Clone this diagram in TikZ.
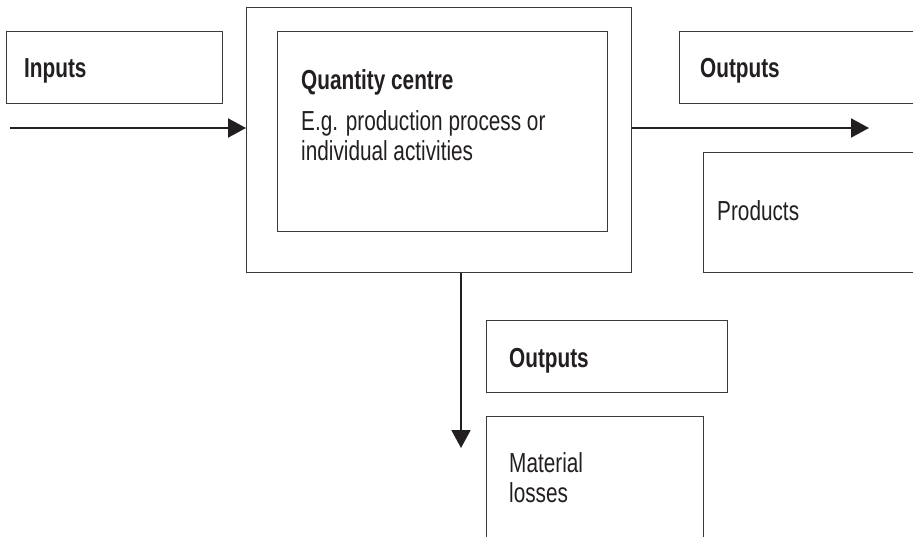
\documentclass[tikz,border=0pt]{standalone}
\usepackage{fontspec}
\setmainfont{Liberation Sans}[FakeStretch=0.755]
\usetikzlibrary{arrows.meta}
\definecolor{ink}{HTML}{231F20}
\definecolor{edge}{HTML}{3A3A3A}
\begin{document}
\begin{tikzpicture}[x=1pt,y=-1pt,
  box/.style={draw=edge, line width=1.3pt, anchor=north west, inner sep=0pt},
  lbl/.style={anchor=base west, inner sep=0pt, text=ink, font=\fontsize{27.5}{30}\selectfont, align=left},
  conn/.style={draw=ink, line width=2pt, -{Triangle[length=18pt,width=19pt]}}]
\useasboundingbox (0,0) rectangle (913,536);
\clip (0,0) rectangle (913,536);
% boxes
\node[box, minimum width=216pt, minimum height=72pt] (inbox) at (6,31) {};
\node[box, minimum width=385pt, minimum height=265pt] (outer) at (246,7) {};
\node[box, minimum width=330pt, minimum height=200pt] (inner) at (277,31) {};
\node[box, minimum width=260pt, minimum height=72pt] (outtop) at (679,31) {};
\node[box, minimum width=240pt, minimum height=120pt] (prod) at (703,152) {};
\node[box, minimum width=241pt, minimum height=72pt] (outbot) at (486,320) {};
\node[box, minimum width=217pt, minimum height=140pt] (loss) at (486,416) {};
% texts (multi-line nodes are placed by the baseline of their last line)
\node[lbl] (intext) at (24,77) {\bfseries Inputs};
\node[lbl] (qtext) at (301,160) {\bfseries Quantity centre\\[11pt]E.g. production process or\\individual activities};
\node[lbl] (outtoptext) at (700,77) {\bfseries Outputs};
\node[lbl] (prodtext) at (717,220) {Products};
\node[lbl] (outbottext) at (509,367) {\bfseries Outputs};
\node[lbl] (losstext) at (509,502) {Material\\losses};
% connectors
\coordinate (inStart) at (10,128);
\coordinate (outEnd) at (869,128);
\coordinate (downStart) at (461,272);
\coordinate (downEnd) at (461,448);
\draw[conn] (inStart) -- (inStart -| outer.west);
\draw[conn] (outer.east |- outEnd) -- (outEnd);
\draw[conn] (downStart |- outer.south) -- (downEnd);
\end{tikzpicture}
\end{document}
